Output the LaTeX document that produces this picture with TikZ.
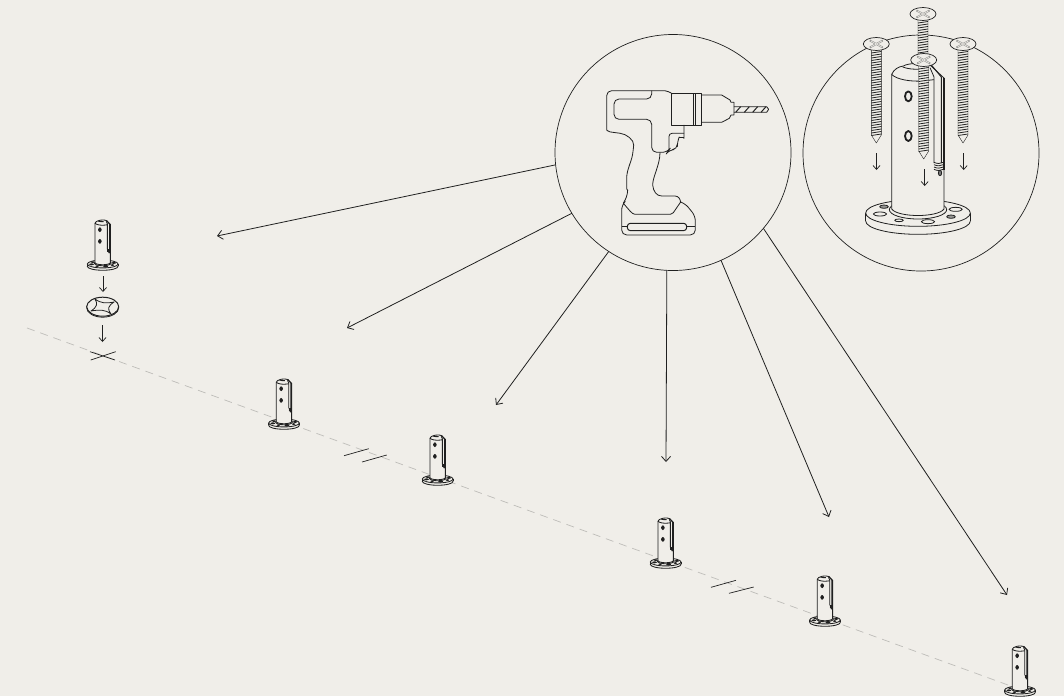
\documentclass[tikz,border=0pt]{standalone}
\usepackage{xcolor}
\usepackage{tikz}
\usetikzlibrary{arrows.meta}
\definecolor{paperbg}{RGB}{240,238,233}
\definecolor{inkline}{RGB}{32,32,32}
\definecolor{layoutgrey}{RGB}{190,189,185}
\definecolor{headgrey}{RGB}{150,150,147}

\begin{document}
\begin{tikzpicture}[
  x=1pt, y=-1pt,
  line join=round,
  lens/.style={circle, draw=inkline, line width=0.7pt, inner sep=0pt, outer sep=0pt, minimum size=236pt},
  leader/.style={-{Straight Barb[length=5pt,width=9pt]}, line width=0.8pt, draw=inkline},
  dropline/.style={-{Straight Barb[length=4pt,width=7pt]}, line width=0.7pt, draw=inkline},
  setout/.style={draw=layoutgrey, line width=0.7pt, dash pattern=on 8pt off 6pt},
  tickline/.style={draw=inkline, line width=0.7pt},
  ink/.style={draw=inkline, line width=0.8pt},
  partline/.style={draw=inkline, fill=paperbg},
  smallpost/.style={scale=0.098, line width=0.85pt},
  bigpost/.style={scale=0.3333, line width=0.8pt},
  spigot/.pic={
    % base plate
    \draw[partline] (0,24) ellipse [x radius=157, y radius=40];
    \fill[paperbg] (-157,0) rectangle (157,24);
    \draw[draw=inkline] (-157,0) -- (-157,24) (157,0) -- (157,24);
    \draw[partline] (0,0) ellipse [x radius=157, y radius=40];
    \draw[partline] (-114,3) ellipse [x radius=20, y radius=6];
    \draw[partline] (-57,22) ellipse [x radius=13, y radius=4];
    \draw[partline] (30,26) ellipse [x radius=20, y radius=6];
    \draw[partline] (113,-11) ellipse [x radius=20, y radius=6];
    \draw[draw=inkline, fill=headgrey] (-102,-19) ellipse [x radius=13, y radius=5];
    \draw[draw=inkline, fill=headgrey] (99,11) ellipse [x radius=13, y radius=5];
    \draw[partline] (0,-10) ellipse [x radius=86, y radius=28];
    % body
    \draw[partline] (-79,-12) -- (-79,-416) .. controls (-72,-432) and (-58,-439) .. (-44,-441)
      .. controls (-30,-450) and (15,-452) .. (36,-444) -- (78,-405) -- (78,-12)
      .. controls (60,14) and (-60,14) .. (-79,-12) -- cycle;
    \draw[draw=inkline] (-79,-416) .. controls (-65,-400) and (-20,-394) .. (10,-396) -- (48,-400);
    \draw[draw=inkline] (-46,-438) .. controls (-30,-432) and (-10,-430) .. (10,-432);
    % slot
    \draw[draw=inkline] (36,-436) -- (48,-408) -- (48,-150);
    \draw[draw=inkline, line width=1pt] (40,-444) -- (70,-408) -- (70,-150);
    \draw[draw=inkline, line width=1.1pt] (78,-405) -- (78,-130);
    \foreach \v in {-152,-145,-138,-131} {
      \draw[draw=inkline] (48,\v) .. controls (58,{\v+5}) and (68,{\v+4}) .. (76,\v);
    }
    \draw[draw=inkline, fill=inkline!60] (66,-120) ellipse [x radius=5, y radius=8];
    % fixing holes
    \foreach \v in {-350,-231} {
      \draw[draw=inkline, line width=1.8pt, fill=paperbg] (-29,\v) ellipse [x radius=10, y radius=15];
    }
  },
  screw/.pic={
    \draw[partline] (-5,4) -- (-5,91) -- (0,99) -- (5,91) -- (5,4) -- cycle;
    \foreach \t in {0,...,33} {
      \draw[draw=inkline, line width=0.8pt] (-5,{9+\t*2.5}) -- (5,{7.5+\t*2.5});
    }
    \draw[partline, line width=0.7pt] (0,0) ellipse [x radius=13, y radius=6.5];
    \draw[draw=headgrey, line width=1.8pt] (-6.5,-3.5) -- (6.5,3.5) (-6.5,3.5) -- (6.5,-3.5);
    \draw[draw=paperbg, line width=0.6pt] (-5.5,-3) -- (5.5,3) (-5.5,3) -- (5.5,-3);
  }
]
\path[use as bounding box, fill=paperbg] (0,0) rectangle (1064,696);

% setting-out line
\coordinate (lineA) at (27,328);
\coordinate (lineB) at (1030,693);
\draw[setout] (lineA) -- (lineB);

% spacing ticks
\draw[tickline] (344,455.7) -- (368.7,448.7);
\draw[tickline] (362,462) -- (386.7,455);
\draw[tickline] (711,587.3) -- (736,580.3);
\draw[tickline] (729,593.3) -- (753.7,587);

% drilling mark
\draw[tickline] (90,351.7) -- (115,360);
\draw[tickline] (90.7,360) -- (115.7,351.7);

% small posts along the line
\pic[smallpost] (postA) at (102.7,264) {spigot};
\pic[smallpost] (postB) at (284,423) {spigot};
\pic[smallpost] (postC) at (437.7,479) {spigot};
\pic[smallpost] (postD) at (665.7,562) {spigot};
\pic[smallpost] (postE) at (825,620) {spigot};
\pic[smallpost] (postF) at (1020,690) {spigot};

% gasket under the first post
\draw[ink, fill=paperbg] (102.7,307.7) ellipse [x radius=16, y radius=9.5];
\draw[ink, line width=1pt, fill=paperbg] (102.7,306.7) ellipse [x radius=16, y radius=9.5];
\draw[ink] (95,299) .. controls (101,303.5) and (106,303.5) .. (114,302)
  .. controls (108,306) and (107,309) .. (111,314)
  .. controls (105,309.5) and (100,309.5) .. (91,311)
  .. controls (97,307) and (98,304) .. (95,299) -- cycle;

\coordinate (dropA) at (103,276);
\coordinate (dropB) at (103,292);
\coordinate (dropC) at (102.5,325);
\coordinate (dropD) at (102.5,342);
\draw[dropline] (dropA) -- (dropB);
\draw[dropline] (dropC) -- (dropD);

% the two detail circles
\node[lens] (drillcircle) at (673,152.5) {};
\node[lens] (fixcircle) at (921,153) {};

% drill, traced in 1/3 px
\begin{scope}[shift={(590,70)}, x=0.3333pt, y=-0.3333pt, line width=0.8pt, draw=inkline]
  \draw[rounded corners=5pt] (245,70) -- (235,62) -- (50,62) -- (50,165) .. controls (50,182) and (62,186) .. (75,188)
    .. controls (110,192) and (132,210) .. (130,240) .. controls (124,275) and (110,300) .. (110,340)
    .. controls (110,355) and (113,365) .. (113,375) -- (100,400);
  \draw[rounded corners=5pt] (185,62) -- (185,87) -- (72,87) -- (72,148) -- (185,148) -- (185,247) -- (232,247)
    -- (237,240) -- (262,238) -- (262,215) .. controls (266,205) and (282,200) .. (282,190) -- (282,165);
  \draw[rounded corners=3pt] (282,190) -- (237,190) -- (237,240);
  \draw (245,70) -- (335,70) -- (335,165) -- (245,165) -- cycle;
  \draw[line width=1.5pt] (310,70) -- (310,165);
  \draw (315,70) -- (315,165);
  \draw (335,75) -- (395,75) -- (420,90) -- (423,97) -- (432,97) -- (432,135) -- (423,135) -- (418,145) -- (395,157) -- (335,157);
  \draw (432,110) -- (530,110) -- (536,118) -- (530,127) -- (432,127);
  \foreach \b in {437,463,488,513} {
    \draw[line width=1pt] (\b,127) -- (\b+15,110);
  }
  \draw (210,247) .. controls (210,285) and (188,320) .. (188,345) .. controls (190,365) and (200,378) .. (215,378)
    -- (255,378) .. controls (266,379) and (270,386) .. (272,396) -- (250,428) .. controls (245,433) and (240,433) .. (235,433)
    -- (135,433) .. controls (125,432) and (118,420) .. (100,400);
  \draw[rounded corners=5pt] (100,400) -- (95,405) -- (95,495) -- (316,495) -- (316,438) -- (285,400) -- (272,396);
  \draw (95,470) -- (112,470) (290,470) -- (316,470);
  \draw[line width=1pt, rounded corners=3pt] (112,460) rectangle (290,482);
\end{scope}

% post with screws
\pic (screwback) at (923,14) {screw};
\pic[bigpost] (postbig) at (918,213) {spigot};
\pic (screwleft) at (876.3,44) {screw};
\pic (screwright) at (963,44) {screw};
\pic (screwfront) at (923.7,60) {screw};

\coordinate (fixA) at (876.5,153);
\coordinate (fixB) at (876.5,170);
\coordinate (fixC) at (924.7,169);
\coordinate (fixD) at (924.7,186);
\coordinate (fixE) at (963.7,153);
\coordinate (fixF) at (963.7,170);
\draw[dropline] (fixA) -- (fixB);
\draw[dropline] (fixC) -- (fixD);
\draw[dropline] (fixE) -- (fixF);

% leaders from the drill to each post position
\coordinate (holeA) at (217,236);
\coordinate (holeB) at (347,328);
\coordinate (holeC) at (496,405);
\coordinate (holeD) at (666,462);
\coordinate (holeE) at (829,517);
\coordinate (holeF) at (1007,595);
\draw[leader] (drillcircle.186.6) -- (holeA);
\draw[leader] (drillcircle.211.1) -- (holeB);
\draw[leader] (drillcircle.237.7) -- (holeC);
\draw[leader] (drillcircle.267.1) -- (holeD);
\draw[leader] (drillcircle.294.7) -- (holeE);
\draw[leader] (drillcircle.320.3) -- (holeF);

\end{tikzpicture}
\end{document}
